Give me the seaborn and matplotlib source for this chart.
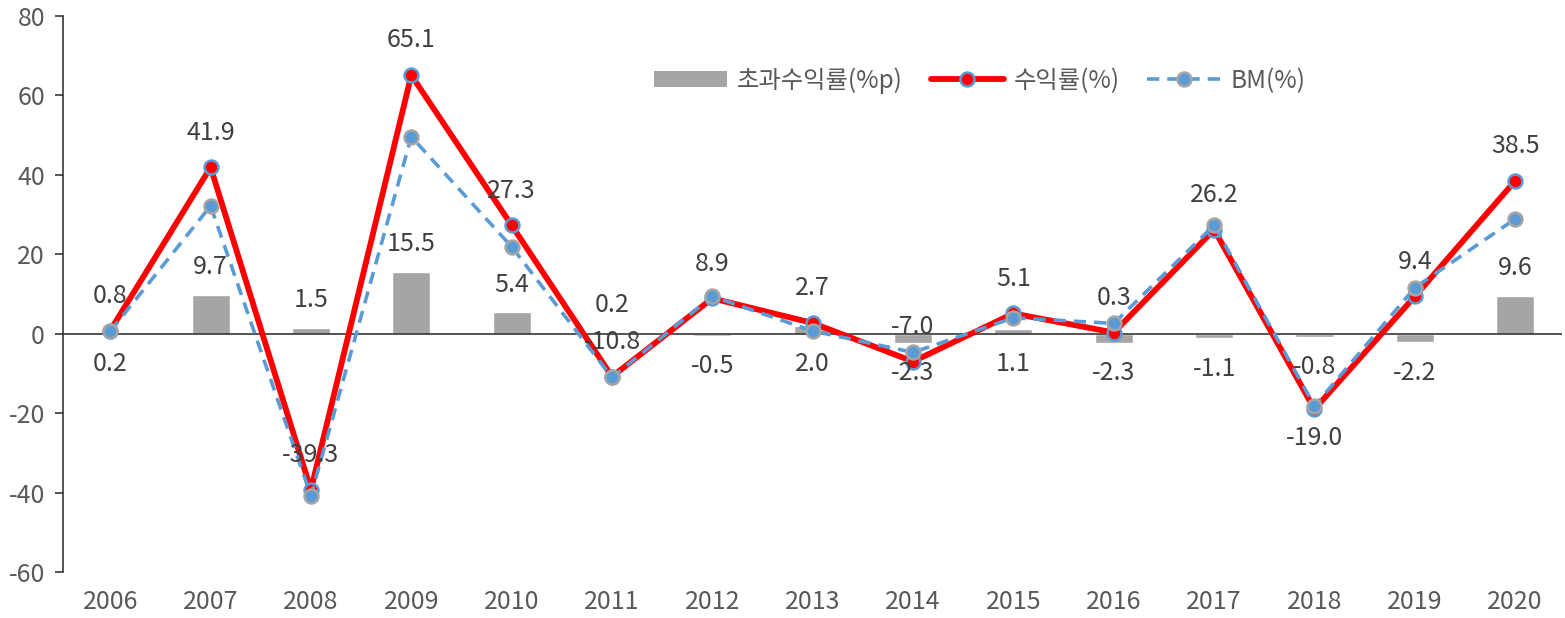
import pandas as pd
import seaborn as sns
from matplotlib import pyplot as plt
from matplotlib.lines import Line2D
from matplotlib.patches import Patch

years = ['2006', '2007', '2008', '2009', '2010', '2011', '2012', '2013',
         '2014', '2015', '2016', '2017', '2018', '2019', '2020']
excess = [0.2, 9.7, 1.5, 15.5, 5.4, 0.2, -0.5, 2.0, -2.3, 1.1, -2.3, -1.1, -0.8, -2.2, 9.6]
returns = [0.8, 41.9, -39.3, 65.1, 27.3, -10.8, 8.9, 2.7, -7.0, 5.1, 0.3, 26.2, -19.0, 9.4, 38.5]
bm = [0.6, 32.2, -40.8, 49.6, 21.9, -11.0, 9.4, 0.7, -4.7, 4.0, 2.6, 27.3, -18.2, 11.6, 28.9]

# labels moved to the other side in the original to dodge the lines
bar_label_below = ['2006', '2013', '2015']
ret_label_below = ['2018']

df = pd.DataFrame({'year': years, 'excess': excess, 'ret': returns, 'bm': bm})

sns.set_style('white')
plt.rcParams['font.family'] = ['Noto Sans CJK KR', 'DejaVu Sans']
plt.rcParams['axes.unicode_minus'] = False

RED = '#FF0000'
BLUE = '#5B9BD5'
GREY = '#A5A5A5'
TXT = '#595959'
DASH = (3.4, 2.2)

fig = plt.figure(figsize=(15.65, 6.18), dpi=100)
ax = fig.add_axes([0.0403, 0.0744, 0.958, 0.8997])

sns.barplot(data=df, x='year', y='excess', color=GREY, saturation=1,
            width=0.38, ax=ax, zorder=2)
ax.axhline(0, color='#262626', lw=1.1, zorder=3)
sns.pointplot(data=df, x='year', y='ret', color=RED, errorbar=None, ax=ax,
              markers='o', markersize=10, markeredgecolor=BLUE, markeredgewidth=1.8,
              markerfacecolor=RED, linewidth=4.2, zorder=4)
sns.pointplot(data=df, x='year', y='bm', color=BLUE, errorbar=None, ax=ax,
              markers='o', markersize=10, markeredgecolor=GREY, markeredgewidth=1.8,
              markerfacecolor=BLUE, linewidth=2.6, linestyles='--', zorder=5)
ax.lines[-1].set_dashes(DASH)

# data labels
for i, yr in enumerate(years):
    off = -21 if yr in ret_label_below else 25
    ax.annotate(f'{returns[i]:.1f}', (i, returns[i]), xytext=(0, off),
                textcoords='offset points', ha='center', va='center',
                fontsize=18, color='#404040', zorder=6)
    v = excess[i]
    if v >= 0 and yr not in bar_label_below:
        anchor, off = v, 20
    else:
        anchor, off = min(v, 0), -22
    ax.annotate(f'{v:.1f}', (i, anchor), xytext=(0, off),
                textcoords='offset points', ha='center', va='center',
                fontsize=18, color='#404040', zorder=6)

ax.set_ylim(-60, 80)
ax.set_yticks(range(-60, 81, 20))
ax.set_xlim(-0.47, 14.47)
ax.set_xlabel('')
ax.set_ylabel('')
for s in ['top', 'right', 'bottom']:
    ax.spines[s].set_visible(False)
ax.spines['left'].set_color('#262626')
ax.spines['left'].set_linewidth(1.1)
ax.tick_params(axis='y', length=6, width=1.1, color='#262626', pad=7,
               labelsize=18, labelcolor=TXT, left=True)
ax.tick_params(axis='x', length=0, pad=12, labelsize=18, labelcolor=TXT)

handles = [
    Patch(facecolor=GREY, edgecolor='none'),
    Line2D([], [], color=RED, lw=4.2, marker='o', markersize=10,
           markerfacecolor=RED, markeredgecolor=BLUE, markeredgewidth=1.8),
    Line2D([], [], color=BLUE, lw=2.6, dashes=DASH, marker='o', markersize=10,
           markerfacecolor=BLUE, markeredgecolor=GREY, markeredgewidth=1.8),
]
fig.legend(handles, ['초과수익률(%p)', '수익률(%)', 'BM(%)'], ncol=3, frameon=False,
           loc='center', bbox_to_anchor=(0.626, 0.87), fontsize=17.5,
           labelcolor=TXT, handlelength=3.0, handletextpad=0.4, columnspacing=1.15,
           handleheight=0.6)

fig.savefig('out.png', dpi=100)
